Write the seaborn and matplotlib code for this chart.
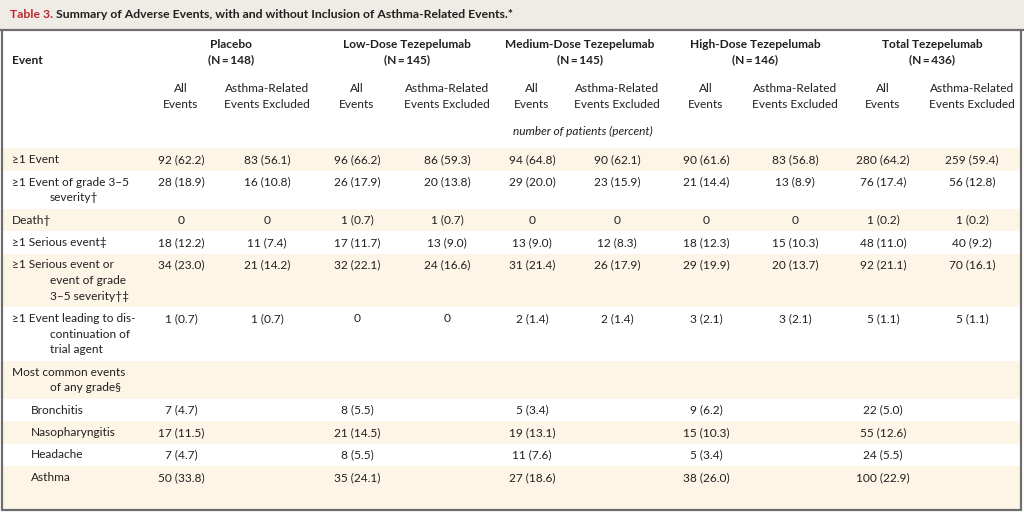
import matplotlib.pyplot as plt
import seaborn as sns

# table content
title_tag = "Table 3."
title_text = "Summary of Adverse Events, with and without Inclusion of Asthma-Related Events.*"
groups = ["Placebo", "Low-Dose Tezepelumab", "Medium-Dose Tezepelumab",
          "High-Dose Tezepelumab", "Total Tezepelumab"]
group_n = [148, 145, 145, 146, 436]
sub_headers = ["All\nEvents", "Asthma-Related\nEvents Excluded"]
unit_note = "number of patients (percent)"

event_labels = [
    "≥1 Event",
    "≥1 Event of grade 3–5\nseverity†",
    "Death†",
    "≥1 Serious event‡",
    "≥1 Serious event or\nevent of grade\n3–5 severity†‡",
    "≥1 Event leading to dis-\ncontinuation of\ntrial agent",
    "Most common events\nof any grade§",
    "Bronchitis",
    "Nasopharyngitis",
    "Headache",
    "Asthma",
]
sub_item = [False, False, False, False, False, False, False, True, True, True, True]

values = [
    ["92 (62.2)", "83 (56.1)", "96 (66.2)", "86 (59.3)", "94 (64.8)", "90 (62.1)", "90 (61.6)", "83 (56.8)", "280 (64.2)", "259 (59.4)"],
    ["28 (18.9)", "16 (10.8)", "26 (17.9)", "20 (13.8)", "29 (20.0)", "23 (15.9)", "21 (14.4)", "13 (8.9)", "76 (17.4)", "56 (12.8)"],
    ["0", "0", "1 (0.7)", "1 (0.7)", "0", "0", "0", "0", "1 (0.2)", "1 (0.2)"],
    ["18 (12.2)", "11 (7.4)", "17 (11.7)", "13 (9.0)", "13 (9.0)", "12 (8.3)", "18 (12.3)", "15 (10.3)", "48 (11.0)", "40 (9.2)"],
    ["34 (23.0)", "21 (14.2)", "32 (22.1)", "24 (16.6)", "31 (21.4)", "26 (17.9)", "29 (19.9)", "20 (13.7)", "92 (21.1)", "70 (16.1)"],
    ["1 (0.7)", "1 (0.7)", "0", "0", "2 (1.4)", "2 (1.4)", "3 (2.1)", "3 (2.1)", "5 (1.1)", "5 (1.1)"],
    ["", "", "", "", "", "", "", "", "", ""],
    ["7 (4.7)", "", "8 (5.5)", "", "5 (3.4)", "", "9 (6.2)", "", "22 (5.0)", ""],
    ["17 (11.5)", "", "21 (14.5)", "", "19 (13.1)", "", "15 (10.3)", "", "55 (12.6)", ""],
    ["7 (4.7)", "", "8 (5.5)", "", "11 (7.6)", "", "5 (3.4)", "", "24 (5.5)", ""],
    ["50 (33.8)", "", "35 (24.1)", "", "27 (18.6)", "", "38 (26.0)", "", "100 (22.9)", ""],
]

# layout (pixel space)
W, H = 1024, 512
group_x = [231, 407, 580, 755, 932]
col_x = [181, 267, 357, 447, 532, 617, 706, 795, 883, 972]
beige = "#fdf5e6"
title_bg = "#efebe5"
ink = "#231f20"
border = "#6e6e6e"
fs = 8.6

sns.set_theme(style="white")
plt.rcParams["font.family"] = ["Lato", "DejaVu Sans"]

fig = plt.figure(figsize=(W / 100, H / 100), dpi=100)
ax = fig.add_axes([0, 0, 1, 1])
ax.set_xlim(0, W)
ax.set_ylim(H, 0)
ax.axis("off")

# title bar
ax.axhspan(0, 30, color=title_bg, lw=0)
ax.plot([0, W], [30, 30], color=border, lw=1.6)
t = ax.text(10, 15, title_tag + " ", color="#c1272d", fontsize=8.8, fontweight="bold", va="center")
fig.canvas.draw()
bb = t.get_window_extent()
x_after = ax.transData.inverted().transform((bb.x1, bb.y0))[0]
ax.text(x_after, 15, title_text, color=ink, fontsize=8.8, fontweight="bold", va="center")

# column headers
ax.text(12, 60, "Event", color=ink, fontsize=fs, fontweight="bold", va="center")
for gx, g, n in zip(group_x, groups, group_n):
    ax.text(gx, 45, g, color=ink, fontsize=fs, fontweight="bold", ha="center", va="center")
    ax.text(gx, 60, f"(N = {n})".replace(" = ", "\u2009=\u2009"), color=ink, fontsize=fs,
            fontweight="bold", ha="center", va="center", family=["Lato", "DejaVu Sans"])
for i, cx in enumerate(col_x):
    for k, line in enumerate(sub_headers[i % 2].split("\n")):
        ax.text(cx, 89 + 15 * k, line, color=ink, fontsize=fs, ha="center", va="center")
ax.text(583, 131, unit_note, color=ink, fontsize=fs, style="italic", ha="center", va="center")

# body rows
top = 148
for r, label in enumerate(event_labels):
    lines = label.split("\n")
    h = 7 + 15.5 * len(lines)
    bottom = top + h if r < len(event_labels) - 1 else 509
    if r % 2 == 0:
        ax.axhspan(top, bottom, xmin=3 / W, xmax=1021 / W, color=beige, lw=0)
    y0 = top + 11.5
    for k, line in enumerate(lines):
        x = 31 if sub_item[r] else (12 if k == 0 else 50)
        ax.text(x, y0 + 15.5 * k, line, color=ink, fontsize=fs, va="center")
    for cx, v in zip(col_x, values[r]):
        if v:
            ax.text(cx, y0, v, color=ink, fontsize=fs, ha="center", va="center")
    top = bottom

# outer border
ax.plot([2, 2], [30, 509.5], color=border, lw=1.6)
ax.plot([1021, 1021], [30, 509.5], color=border, lw=1.6)
ax.plot([2, 1021], [509.5, 509.5], color=border, lw=1.6)

fig.savefig("out.png", dpi=100)
